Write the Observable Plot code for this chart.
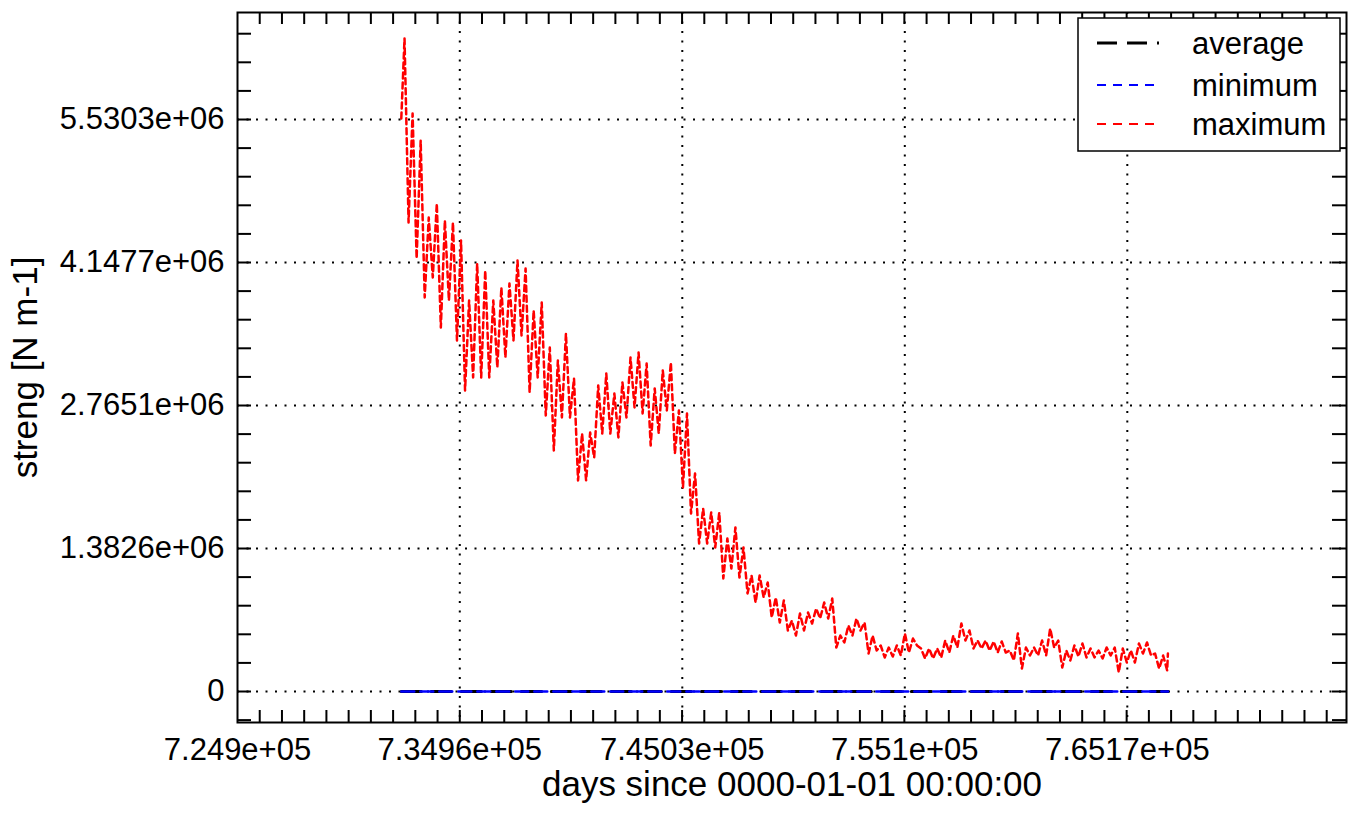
<!DOCTYPE html>
<html>
<head>
<meta charset="utf-8">
<script src="https://cdn.jsdelivr.net/npm/d3@7"></script>
<script src="https://cdn.jsdelivr.net/npm/@observablehq/plot@0.6"></script>
<style>
  html, body { margin: 0; padding: 0; background: #fff; }
  svg { display: block; }
</style>
</head>
<body>
<div id="chart"></div>
<script>
// ---------------- data ----------------
const startYear = 2005;           // first year of the monthly series
const startDay = 732313;          // days since 0000-01-01 for 2005-01-01
const endYear = 2100;

// yearly peaks and troughs of the "maximum" series, in units of 1e6 N m-1
const maxHigh = [6.314,5.588,5.327,4.583,4.718,4.554,4.535,4.361,3.780,4.138,
  4.070,3.780,3.906,3.945,4.167,4.090,3.684,3.761,3.326,3.200,
  3.461,3.026,2.494,2.504,2.959,3.075,2.881,2.988,3.229,3.278,
  3.171,2.930,3.104,3.181,2.717,2.688,2.108,1.769,1.731,1.731,
  1.479,1.586,1.392,1.122,1.122,1.054,0.909,0.880,0.686,0.754,
  0.764,0.802,0.860,0.899,0.541,0.638,0.706,0.667,0.541,0.445,
  0.425,0.445,0.561,0.512,0.416,0.416,0.416,0.493,0.541,0.657,
  0.590,0.493,0.493,0.483,0.483,0.396,0.561,0.425,0.425,0.493,
  0.609,0.493,0.396,0.445,0.464,0.416,0.396,0.425,0.425,0.416,
  0.396,0.464,0.474,0.367,0.348];
const maxLow = [4.535,4.186,3.809,4.003,3.519,3.780,3.394,2.910,3.036,3.036,
  3.036,3.133,3.229,3.394,3.442,2.891,3.036,2.669,2.330,2.649,
  2.649,2.040,2.040,2.262,2.494,2.494,2.456,2.649,2.746,2.688,
  2.378,2.494,2.717,2.301,1.972,1.721,1.431,1.431,1.392,1.093,
  1.189,1.102,0.948,0.860,0.909,0.715,0.667,0.590,0.541,0.590,
  0.657,0.706,0.706,0.425,0.474,0.541,0.590,0.367,0.396,0.329,
  0.338,0.348,0.377,0.445,0.319,0.319,0.329,0.377,0.425,0.493,
  0.416,0.416,0.396,0.377,0.377,0.300,0.222,0.348,0.348,0.348,
  0.425,0.232,0.300,0.338,0.329,0.329,0.319,0.348,0.184,0.280,
  0.280,0.367,0.348,0.222,0.203];
const maxFirst = 5.540;
const maxLast = 0.367;

// average and minimum series (both sit on zero at this scale)
const avgYears = [2005, 2100];
const avgValues = [0, 0];
const minYears = [2005, 2100];
const minValues = [0, 0];

// axes
const xTicks = [724900, 734960, 745030, 755100, 765170];
const xTickLabels = ["7.249e+05", "7.3496e+05", "7.4503e+05", "7.551e+05", "7.6517e+05"];
const yTicks = [0, 1.3826, 2.7651, 4.1477, 5.5303];
const yTickLabels = ["0", "1.3826e+06", "2.7651e+06", "4.1477e+06", "5.5303e+06"];
const xTitle = "days since 0000-01-01 00:00:00";
const yTitle = "streng [N m-1]";
const legendLabels = ["average", "minimum", "maximum"];
const seriesColors = ["#000000", "#0000ff", "#ff0000"];

// ---------------- build tables ----------------
const toDay = yr => startDay + (yr - startYear) * 365.2425;
const maxSeries = [{t: toDay(startYear), v: maxFirst}];
maxHigh.forEach((h, k) => {
  maxSeries.push({t: toDay(startYear + k + 0.4), v: h});
  maxSeries.push({t: toDay(startYear + k + 0.9), v: maxLow[k]});
});
maxSeries.push({t: toDay(endYear - 0.01), v: maxLast});
const avgSeries = avgYears.map((y, i) => ({t: toDay(y), v: avgValues[i]}));
const minSeries = minYears.map((y, i) => ({t: toDay(y), v: minValues[i]}));

const xDomain = [724900, 775090];
const yDomain = [-0.2997, 6.565];
const xMinorStep = (xTicks[1] - xTicks[0]) / 10;
const yMinorStep = (yTicks[1] - yTicks[0]) / 5;
const xMinor = d3.range(xDomain[0] + xMinorStep, xDomain[1], xMinorStep);
const yMinor = [];
for (let v = -yMinorStep; v < yDomain[1]; v += yMinorStep) if (v > yDomain[0]) yMinor.push(v);

const W = 1349, H = 815;
const mL = 237, mR = 3, mT = 12, mB = 93;
const frameW = W - mL - mR, frameH = H - mT - mB;
const tickLen = 12;
const dotted = "2,7.5";
const FONT = "'Liberation Sans', Arial, Helvetica, sans-serif";

const chart = Plot.plot({
  width: W, height: H,
  marginLeft: mL, marginRight: mR, marginTop: mT, marginBottom: mB,
  style: {fontFamily: FONT, fontSize: "31px", color: "#000", background: "#fff"},
  x: {domain: xDomain},
  y: {domain: yDomain},
  marks: [
    // dotted grid
    Plot.ruleX(xTicks.slice(1), {stroke: "#000", strokeWidth: 2, strokeDasharray: dotted}),
    Plot.ruleY(yTicks, {stroke: "#000", strokeWidth: 2, strokeDasharray: dotted}),
    // minor ticks, inward, on all four sides
    Plot.tickX(xMinor, {x: d => d, insetTop: frameH - tickLen, stroke: "#000", strokeWidth: 2}),
    Plot.tickX(xMinor, {x: d => d, insetBottom: frameH - tickLen, stroke: "#000", strokeWidth: 2}),
    Plot.tickY(yMinor, {y: d => d, insetRight: frameW - tickLen - 2, stroke: "#000", strokeWidth: 2}),
    Plot.tickY(yMinor, {y: d => d, insetLeft: frameW - tickLen - 2, stroke: "#000", strokeWidth: 2}),
    // axes labels
    Plot.axisX({ticks: xTicks, tickFormat: (d, i) => xTickLabels[i], tickSize: 0, tickPadding: 15, label: null, fontSize: 31}),
    Plot.axisY({ticks: yTicks, tickFormat: (d, i) => yTickLabels[i], tickSize: 0, tickPadding: 13, label: null, fontSize: 31}),
    Plot.text([xTitle], {frameAnchor: "bottom", dy: 73, fontSize: 35, text: d => d}),
    Plot.text([yTitle], {frameAnchor: "left", dx: -212, rotate: -90, textAnchor: "middle", fontSize: 35, text: d => d}),
    // series
    Plot.line(maxSeries, {x: "t", y: "v", stroke: seriesColors[2], strokeWidth: 2.5, strokeDasharray: "6,4"}),
    Plot.line(avgSeries, {x: "t", y: "v", stroke: seriesColors[0], strokeWidth: 3, strokeDasharray: "20,10"}),
    Plot.line(minSeries, {x: "t", y: "v", stroke: seriesColors[1], strokeWidth: 2.5, strokeDasharray: "13,6"}),
    Plot.frame({stroke: "#000", strokeWidth: 2})
  ]
});

// legend box (inside the plot, top right)
const svg = d3.select(chart);
const lg = svg.append("g").attr("text-anchor", "start").attr("font-family", FONT);
lg.append("rect").attr("x", 1078).attr("y", 18).attr("width", 262).attr("height", 133)
  .attr("fill", "#fff").attr("stroke", "#000").attr("stroke-width", 1.5);
const legendY = [43, 85, 124];
const legendDash = ["20,10", "9,7", "9,7"];
const legendWidth = [3, 2, 2];
legendLabels.forEach((lab, i) => {
  lg.append("line").attr("x1", 1097).attr("x2", 1159).attr("y1", legendY[i]).attr("y2", legendY[i])
    .attr("stroke", seriesColors[i]).attr("stroke-width", legendWidth[i]).attr("stroke-dasharray", legendDash[i]);
  lg.append("text").attr("x", 1192).attr("y", legendY[i]).attr("dy", "0.35em")
    .attr("text-anchor", "start").attr("font-size", 31).attr("fill", "#000").text(lab);
});

document.getElementById("chart").appendChild(chart);
</script>
</body>
</html>
